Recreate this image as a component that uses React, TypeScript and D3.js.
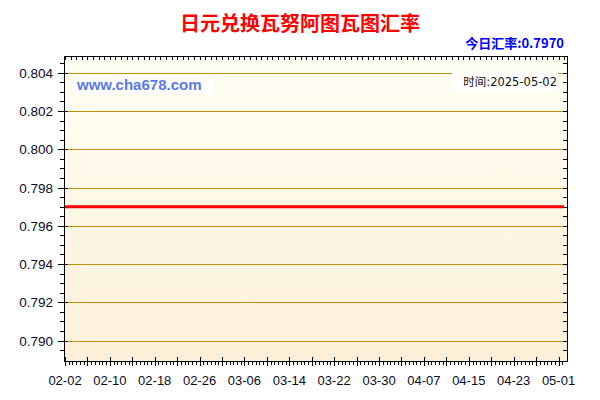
// @ts-nocheck
import React, { useEffect, useRef } from "react"
import * as d3 from "d3"

const title = "日元兑换瓦努阿图瓦图汇率"
const todayRate = "今日汇率:0.7970"
const timeLabel = "时间:2025-05-02"
const siteLabel = "www.cha678.com"

// daily rate (flat over the whole period)
const dates = ["2025-02-02", "2025-02-10", "2025-02-18", "2025-02-26", "2025-03-06", "2025-03-14",
  "2025-03-22", "2025-03-30", "2025-04-07", "2025-04-15", "2025-04-23", "2025-05-01", "2025-05-02"]
const rates = [0.797, 0.797, 0.797, 0.797, 0.797, 0.797, 0.797, 0.797, 0.797, 0.797, 0.797, 0.797, 0.797]

const xTickLabels = ["02-02", "02-10", "02-18", "02-26", "03-06", "03-14", "03-22", "03-30", "04-07", "04-15", "04-23", "05-01"]
const yTicks = [0.790, 0.792, 0.794, 0.796, 0.798, 0.800, 0.802, 0.804]

function Chart() {
  const ref = useRef(null)

  useEffect(() => {
    const width = 600, height = 400
    const left = 64, right = 567, top = 56, bottom = 361
    const parse = d3.timeParse("%Y-%m-%d")
    const DAY = 864e5

    const svg = d3.select(ref.current)
    svg.selectAll("*").remove()

    const x = d3.scaleTime()
      .domain([parse("2025-02-02"), parse("2025-05-01")])
      .range([65, 558.5])
    const y = d3.scaleLinear()
      .domain([0.790, 0.804])
      .range([340.5, 72.8])

    const defs = svg.append("defs")
    const grad = defs.append("linearGradient")
      .attr("id", "bg").attr("x1", 0).attr("y1", 0).attr("x2", 0).attr("y2", 1)
    grad.append("stop").attr("offset", "0%").attr("stop-color", "#fffef4")
    grad.append("stop").attr("offset", "100%").attr("stop-color", "#fcf0d8")

    svg.append("rect")
      .attr("width", width).attr("height", height).attr("fill", "#fff")

    // plot background
    svg.append("rect")
      .attr("x", left).attr("y", top)
      .attr("width", right - left).attr("height", bottom - top)
      .attr("fill", "url(#bg)")

    // grid lines
    svg.append("g")
      .selectAll("line")
      .data(yTicks)
      .join("line")
      .attr("x1", left).attr("x2", right - 4)
      .attr("y1", d => Math.round(y(d)) + 0.5).attr("y2", d => Math.round(y(d)) + 0.5)
      .attr("stroke", "#c0900c").attr("stroke-width", 1)

    // watermark labels
    svg.append("rect")
      .attr("x", 74).attr("y", 75).attr("width", 139).attr("height", 19).attr("fill", "#fff")
    svg.append("text")
      .attr("x", 77).attr("y", 90)
      .attr("font-family", "Liberation Sans, Arial, sans-serif")
      .attr("font-weight", "bold").attr("font-size", 15)
      .attr("fill", "#5b78ea")
      .text(siteLabel)

    svg.append("rect")
      .attr("x", 452).attr("y", 72).attr("width", 106).attr("height", 19).attr("fill", "#fff")
    svg.append("text")
      .attr("x", 557).attr("y", 86)
      .attr("text-anchor", "end")
      .attr("font-family", "DejaVu Sans, Noto Sans CJK SC, sans-serif")
      .attr("font-size", 11.5)
      .attr("fill", "#111")
      .text(timeLabel)

    // rate line
    const line = d3.line()
      .x(d => x(parse(d[0])))
      .y(d => y(d[1]))
    svg.append("path")
      .datum(dates.map((d, i) => [d, rates[i]]))
      .attr("d", line)
      .attr("fill", "none")
      .attr("stroke", "#ff0000")
      .attr("stroke-width", 3)

    // frame
    const axis = svg.append("g").attr("stroke", "#000").attr("stroke-width", 1)
    axis.append("rect")
      .attr("x", left + 0.5).attr("y", top + 0.5)
      .attr("width", right - left).attr("height", bottom - top)
      .attr("fill", "none")

    const start = parse("2025-02-02").getTime()
    const end = parse("2025-05-02").getTime()

    // top ticks: daily, inward
    const topTicks = d3.range(start, end + 1, DAY)
    axis.append("g").selectAll("line").data(topTicks).join("line")
      .attr("x1", d => Math.round(x(d)) + 0.5).attr("x2", d => Math.round(x(d)) + 0.5)
      .attr("y1", top).attr("y2", top + 4)

    // bottom ticks: minor and major
    const minorB = d3.range(start, end + 1, DAY * 2 / 3)
    axis.append("g").selectAll("line").data(minorB).join("line")
      .attr("x1", d => Math.round(x(d)) + 0.5).attr("x2", d => Math.round(x(d)) + 0.5)
      .attr("y1", bottom).attr("y2", bottom + 4)
    const majorB = d3.range(start, end + 1, DAY * 4)
    axis.append("g").selectAll("line").data(majorB).join("line")
      .attr("x1", d => Math.round(x(d)) + 0.5).attr("x2", d => Math.round(x(d)) + 0.5)
      .attr("y1", bottom - 4).attr("y2", bottom + 5)

    // left ticks
    const minorY = d3.range(0.7895, 0.8049, 0.0005).filter(v => y(v) > top + 2 && y(v) < bottom)
    axis.append("g").selectAll("line").data(minorY).join("line")
      .attr("x1", left - 4).attr("x2", left)
      .attr("y1", d => Math.round(y(d)) + 0.5).attr("y2", d => Math.round(y(d)) + 0.5)
    axis.append("g").selectAll("line").data(yTicks).join("line")
      .attr("x1", left - 6).attr("x2", left + 4)
      .attr("y1", d => Math.round(y(d)) + 0.5).attr("y2", d => Math.round(y(d)) + 0.5)

    // right ticks: inward
    axis.append("g").selectAll("line").data(minorY).join("line")
      .attr("x1", right - 4).attr("x2", right)
      .attr("y1", d => Math.round(y(d)) + 0.5).attr("y2", d => Math.round(y(d)) + 0.5)

    // y labels
    svg.append("g")
      .attr("font-family", "Liberation Sans, Arial, sans-serif")
      .attr("font-size", 13.5)
      .attr("fill", "#0a0a2a")
      .attr("text-anchor", "end")
      .selectAll("text").data(yTicks).join("text")
      .attr("x", 53)
      .attr("y", d => y(d) + 5)
      .text(d3.format(".3f"))

    // x labels
    svg.append("g")
      .attr("font-family", "Liberation Sans, Arial, sans-serif")
      .attr("font-size", 13)
      .attr("fill", "#0a0a2a")
      .attr("text-anchor", "middle")
      .selectAll("text").data(xTickLabels).join("text")
      .attr("x", d => x(parse("2025-" + d)))
      .attr("y", 385)
      .text(d => d)

    // titles
    svg.append("text")
      .attr("x", 300).attr("y", 31)
      .attr("text-anchor", "middle")
      .attr("font-family", "Noto Sans CJK SC, sans-serif")
      .attr("font-weight", "bold").attr("font-size", 20)
      .attr("fill", "#ff0000")
      .text(title)

    svg.append("text")
      .attr("x", 564).attr("y", 48)
      .attr("text-anchor", "end")
      .attr("font-family", "Noto Sans CJK SC, sans-serif")
      .attr("font-weight", "bold").attr("font-size", 13)
      .attr("fill", "#0000ff")
      .text(todayRate)

    // outer border
    svg.append("rect")
      .attr("x", 1).attr("y", 1).attr("width", 598).attr("height", 398)
      .attr("fill", "none").attr("stroke", "#000").attr("stroke-width", 2)
  }, [])

  return <svg ref={ref} width={600} height={400} style={{ display: "block" }} />
}

export default function App() {
  return (
    <div style={{ margin: -8 }}>
      <Chart />
    </div>
  )
}
